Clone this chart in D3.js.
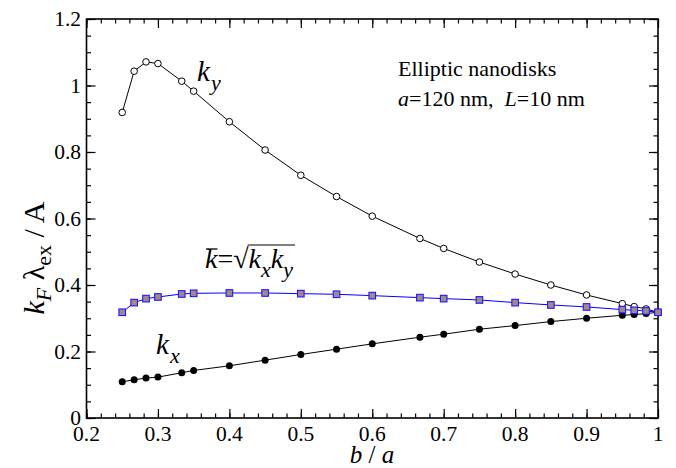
<!DOCTYPE html>
<html><head><meta charset="utf-8">
<script src="https://cdn.jsdelivr.net/npm/d3@7"></script>
<style>
svg text, svg tspan { font-family: "Liberation Serif", "Times New Roman", Tinos, "Nimbus Roman", FreeSerif, "DejaVu Serif", serif !important; }
</style>
</head><body style="margin:0"><svg id="c" width="676" height="468"></svg>
<script>
const ratio = [0.25,0.2667,0.2833,0.3,0.3333,0.35,0.4,0.45,0.5,0.55,0.6,0.6667,0.7,0.75,0.8,0.85,0.9,0.95,0.9667,0.9833,1.0];
const ky = [0.919,1.043,1.071,1.066,1.013,0.983,0.891,0.806,0.730,0.666,0.607,0.540,0.510,0.469,0.433,0.400,0.370,0.344,0.335,0.328,0.318];
const kx = [0.109,0.115,0.120,0.123,0.136,0.143,0.157,0.174,0.191,0.207,0.223,0.243,0.252,0.267,0.278,0.290,0.300,0.309,0.311,0.314,0.318];
const kbar = [0.318,0.347,0.359,0.364,0.373,0.375,0.376,0.376,0.374,0.372,0.368,0.362,0.359,0.355,0.347,0.340,0.334,0.326,0.324,0.322,0.318];
const xTicks = [0.2,0.3,0.4,0.5,0.6,0.7,0.8,0.9,1.0];
const xTickLabels = ["0.2","0.3","0.4","0.5","0.6","0.7","0.8","0.9","1"];
const yTicks = [0,0.2,0.4,0.6,0.8,1.0,1.2];
const yTickLabels = ["0","0.2","0.4","0.6","0.8","1","1.2"];

const FONT = '"Liberation Serif", "Times New Roman", Tinos, "Nimbus Roman", FreeSerif, serif';
const svg = d3.select("#c");
const L=86.5, R=658, T=19, B=418;
const x = d3.scaleLinear().domain([0.2,1.0]).range([L,R]);
const y = d3.scaleLinear().domain([0,1.2]).range([B,T]);

const xMinor = d3.range(0.2,1.0001,0.02);
const yMinor = d3.range(0,1.2001,0.05);
const g = svg.append("g");
function ticks(axisGen, tr, vals, len){
  const a = g.append("g").attr("transform",tr).call(axisGen.tickValues(vals).tickSize(len).tickFormat(""));
  a.select(".domain").remove();
  a.selectAll("text").remove();
  a.attr("font-family",null).attr("font-size",null);
  a.selectAll("line").attr("stroke","#000").attr("stroke-width",1.2);
}
ticks(d3.axisTop(x), `translate(0,${B})`, xMinor, 4.5);
ticks(d3.axisTop(x), `translate(0,${B})`, xTicks, 9);
ticks(d3.axisBottom(x), `translate(0,${T})`, xMinor, 4.5);
ticks(d3.axisBottom(x), `translate(0,${T})`, xTicks, 9);
ticks(d3.axisRight(y), `translate(${L},0)`, yMinor, 4.5);
ticks(d3.axisRight(y), `translate(${L},0)`, yTicks, 9);
ticks(d3.axisLeft(y), `translate(${R},0)`, yMinor, 4.5);
ticks(d3.axisLeft(y), `translate(${R},0)`, yTicks, 9);

g.append("rect").attr("x",L).attr("y",T).attr("width",R-L).attr("height",B-T)
 .attr("fill","none").attr("stroke","#000").attr("stroke-width",1.6);

function txt(sel){ return sel.attr("font-family",FONT).style("font-family",FONT); }

txt(svg.append("g").selectAll("text").data(xTicks).join("text"))
  .attr("x",d=>x(d)).attr("y",441).attr("text-anchor","middle").attr("font-size",21.5)
  .text((d,i)=>xTickLabels[i]);
txt(svg.append("g").selectAll("text").data(yTicks).join("text"))
  .attr("x",81).attr("y",d=>y(d)+7).attr("text-anchor","end").attr("font-size",21.5)
  .text((d,i)=>yTickLabels[i]);

const line = (arr)=>d3.line().x((d,i)=>x(ratio[i])).y(d=>y(d))(arr);
svg.append("path").attr("d",line(ky)).attr("fill","none").attr("stroke","#000").attr("stroke-width",1);
svg.append("path").attr("d",line(kx)).attr("fill","none").attr("stroke","#000").attr("stroke-width",1);
svg.append("path").attr("d",line(kbar)).attr("fill","none").attr("stroke","#0000ff").attr("stroke-width",1);

svg.append("g").selectAll("circle").data(ky).join("circle")
  .attr("cx",(d,i)=>x(ratio[i])).attr("cy",d=>y(d)).attr("r",3.3)
  .attr("fill","#fff").attr("stroke","#000").attr("stroke-width",1);
svg.append("g").selectAll("circle").data(kx).join("circle")
  .attr("cx",(d,i)=>x(ratio[i])).attr("cy",d=>y(d)).attr("r",3.5)
  .attr("fill","#000");
svg.append("g").selectAll("rect").data(kbar).join("rect")
  .attr("x",(d,i)=>x(ratio[i])-3.3).attr("y",d=>y(d)-3.3).attr("width",6.6).attr("height",6.6)
  .attr("fill","#a88686").attr("stroke","#1a1aff").attr("stroke-width",1.1);

txt(svg.append("text")).attr("x",398).attr("y",76).attr("font-size",22).text("Elliptic nanodisks");
const t2 = txt(svg.append("text")).attr("x",398).attr("y",106).attr("font-size",22);
t2.append("tspan").attr("font-style","italic").text("a");
t2.append("tspan").text("=120 nm,\u00a0\u00a0");
t2.append("tspan").attr("font-style","italic").text("L");
t2.append("tspan").text("=10 nm");

function kLabel(xp, yp, sub){
  const t = txt(svg.append("text")).attr("x",xp).attr("y",yp).attr("font-size",29).attr("font-style","italic");
  t.append("tspan").text("k");
  t.append("tspan").attr("font-size",22).attr("dy",9).attr("dx",1).text(sub);
}
kLabel(197, 81, "y");
kLabel(156, 354, "x");

const kb = txt(svg.append("text")).attr("x",205).attr("y",268).attr("font-size",28);
kb.append("tspan").attr("font-style","italic").text("k");
kb.append("tspan").text("=√");
kb.append("tspan").attr("font-style","italic").text("k");
kb.append("tspan").attr("font-style","italic").attr("font-size",22).attr("dy",9).text("x");
kb.append("tspan").attr("font-style","italic").attr("dy",-9).text("k");
kb.append("tspan").attr("font-style","italic").attr("font-size",22).attr("dy",9).text("y");
// overlines computed from the rendered glyph extents
(function(){
  const n = kb.node();
  let kE, sE, yE;
  try { kE = n.getExtentOfChar(0); sE = n.getExtentOfChar(2); yE = n.getExtentOfChar(6); } catch(e) {}
  const kx1 = kE ? kE.x+1 : 206, kx2 = kE ? kE.x+kE.width : 218;
  const sx1 = sE ? sE.x+sE.width-1 : 246, sx2 = yE ? yE.x+yE.width+2 : 308;
  const sy = sE ? Math.max(sE.y+2, 244) : 246;
  svg.append("line").attr("x1",kx1).attr("x2",kx2).attr("y1",249).attr("y2",249).attr("stroke","#000").attr("stroke-width",1.3);
  svg.append("line").attr("x1",sx1).attr("x2",sx2).attr("y1",sy).attr("y2",sy).attr("stroke","#000").attr("stroke-width",1);
})();

const xt = txt(svg.append("text")).attr("x",372).attr("y",463).attr("text-anchor","middle").attr("font-size",25);
xt.append("tspan").attr("font-style","italic").text("b");
xt.append("tspan").text(" / ");
xt.append("tspan").attr("font-style","italic").text("a");

const yt = txt(svg.append("text")).attr("transform","translate(44,258) rotate(-90)").attr("text-anchor","middle").attr("font-size",30);
yt.append("tspan").attr("font-style","italic").text("k");
yt.append("tspan").attr("font-style","italic").attr("font-size",22).attr("dy",7).text("F");
yt.append("tspan").attr("dy",-7).text(" λ");
yt.append("tspan").attr("font-size",22).attr("dy",7).text("ex");
yt.append("tspan").attr("dy",-7).text(" / A");
</script></body></html>
